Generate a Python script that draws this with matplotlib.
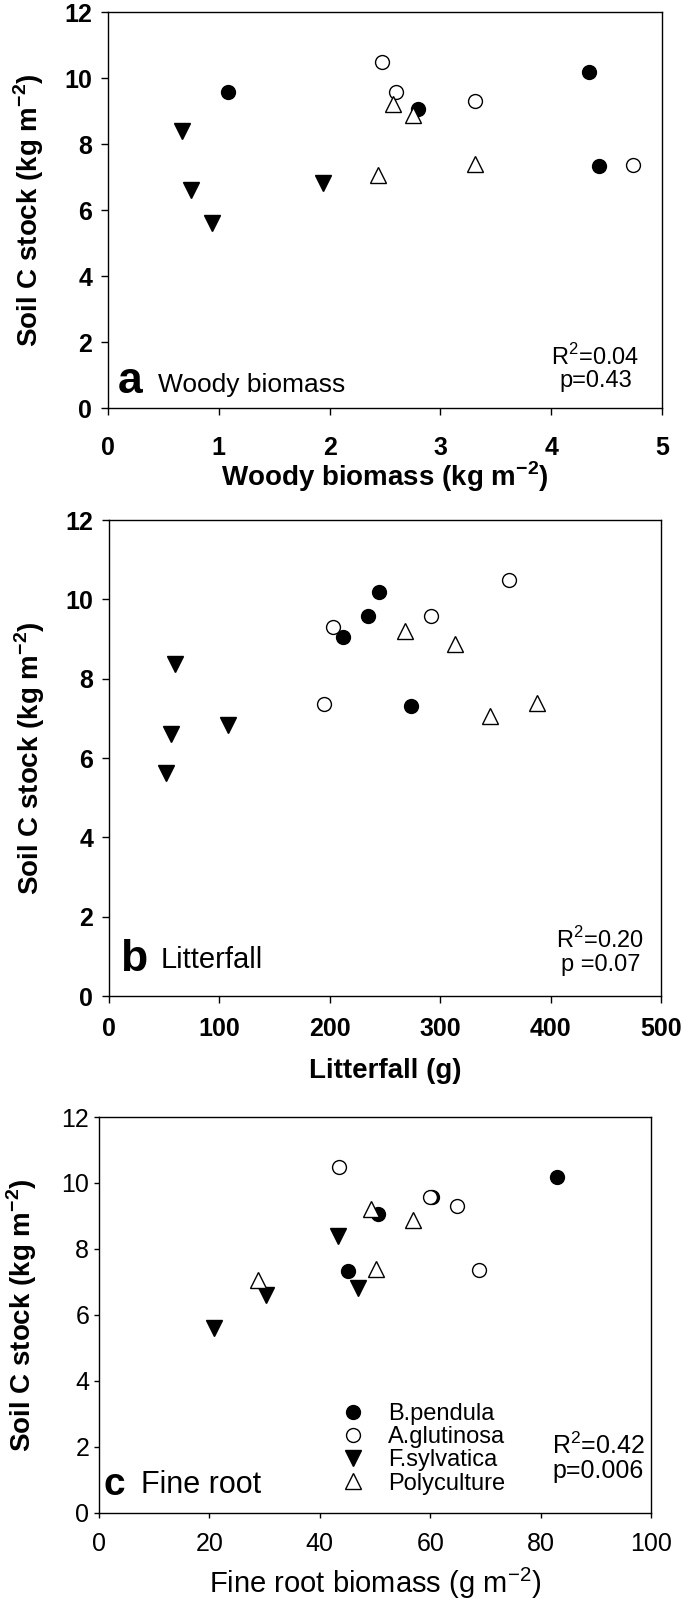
import matplotlib
matplotlib.use("Agg")
import matplotlib.pyplot as plt
from matplotlib import font_manager as fm
from matplotlib.lines import Line2D

names = {f.name for f in fm.fontManager.ttflist}
BASE = "Liberation Sans" if "Liberation Sans" in names else "DejaVu Sans"
plt.rcParams['font.family'] = [BASE, 'DejaVu Sans']
plt.rcParams['mathtext.fontset'] = 'custom'
plt.rcParams['mathtext.rm'] = BASE
plt.rcParams['mathtext.bf'] = BASE + ':bold'

species = ["B.pendula", "A.glutinosa", "F.sylvatica", "Polyculture"]

# Soil C stock (kg m-2) per plot, per species
soil_c = {
    "B.pendula":   [9.57, 9.05, 10.18, 7.32],
    "A.glutinosa": [10.50, 9.59, 9.31, 7.36],
    "F.sylvatica": [8.38, 6.60, 5.62, 6.83],
    "Polyculture": [9.20, 8.88, 7.07, 7.39],
}
# Woody biomass (kg m-2)
woody = {
    "B.pendula":   [1.085, 2.80, 4.34, 4.43],
    "A.glutinosa": [2.47, 2.60, 3.31, 4.74],
    "F.sylvatica": [0.67, 0.75, 0.94, 1.94],
    "Polyculture": [2.57, 2.75, 2.44, 3.31],
}
# Litterfall (g)
litter = {
    "B.pendula":   [235, 212, 245, 274],
    "A.glutinosa": [362, 292, 203, 195],
    "F.sylvatica": [60, 56, 52, 108],
    "Polyculture": [268, 313, 345, 388],
}
# Fine root biomass (g m-2)
fineroot = {
    "B.pendula":   [60.4, 50.6, 83.0, 45.1],
    "A.glutinosa": [43.5, 60.0, 64.9, 68.9],
    "F.sylvatica": [43.3, 30.3, 20.8, 46.9],
    "Polyculture": [49.3, 56.8, 28.8, 50.2],
}

styles = {
    "B.pendula":   dict(marker="o", mfc="black", mec="black", ms=10),
    "A.glutinosa": dict(marker="o", mfc="white", mec="black", ms=10),
    "F.sylvatica": dict(marker="v", mfc="black", mec="black", ms=11),
    "Polyculture": dict(marker="^", mfc="white", mec="black", ms=11),
}

fig = plt.figure(figsize=(6.85, 16.05), dpi=100)
W, H = 685.0, 1605.0

def add_axes(l, r, t, b):
    return fig.add_axes([l / W, 1 - b / H, (r - l) / W, (b - t) / H])

axa = add_axes(108, 662, 12, 408)
axb = add_axes(109, 661, 520, 996)
axc = add_axes(99, 651, 1117, 1513)

def draw(ax, xs):
    for sp in species:
        ax.plot(xs[sp], soil_c[sp], linestyle="none", mew=1.0, zorder=3, **styles[sp])

def style(ax, xlim, xticks, xpad, ypad, length, bold=True):
    ax.set_xlim(*xlim)
    ax.set_ylim(0, 12)
    ax.set_xticks(xticks)
    ax.set_yticks(range(0, 13, 2))
    for s in ax.spines.values():
        s.set_linewidth(1.0)
    ax.tick_params(direction="out", length=length, width=1, labelsize=18)
    ax.tick_params(axis="x", pad=xpad)
    ax.tick_params(axis="y", pad=ypad)
    for lab in ax.get_xticklabels() + ax.get_yticklabels():
        lab.set_fontweight("bold" if bold else "normal")

YLAB = "Soil C stock (kg m$^{\\mathbf{-2}}$)"

# Panel a
draw(axa, woody)
style(axa, (0, 5), range(0, 6), xpad=15, ypad=6.5, length=5)
axa.set_ylabel(YLAB, fontsize=20, fontweight="bold")
axa.yaxis.set_label_coords(-0.112, 0.5)
axa.text(0.5, -0.174, "Woody biomass (kg m$^{\\mathbf{-2}}$)", transform=axa.transAxes,
         ha="center", va="center", fontsize=20, fontweight="bold")
axa.text(0.09, 0.79, "a", fontsize=32, fontweight="bold", va="center", ha="left")
axa.text(0.45, 0.70, "Woody biomass", fontsize=19, va="center", ha="left")
axa.text(4.40, 1.21, "R$^2$=0.04\np=0.43", fontsize=17, ha="center", va="center",
         linespacing=1.05)

# Panel b
draw(axb, litter)
style(axb, (0, 500), range(0, 501, 100), xpad=10, ypad=6.5, length=5)
axb.set_ylabel(YLAB, fontsize=20, fontweight="bold")
axb.yaxis.set_label_coords(-0.112, 0.5)
axb.text(0.5, -0.158, "Litterfall (g)", transform=axb.transAxes,
         ha="center", va="center", fontsize=20, fontweight="bold")
axb.text(10, 0.91, "b", fontsize=32, fontweight="bold", va="center", ha="left")
axb.text(47, 0.91, "Litterfall", fontsize=21, va="center", ha="left")
axb.text(445, 1.13, "R$^2$=0.20\np =0.07", fontsize=17, ha="center", va="center",
         linespacing=1.05)

# Panel c
draw(axc, fineroot)
style(axc, (0, 100), range(0, 101, 20), xpad=10, ypad=3.5, length=3.5, bold=False)
axc.set_ylabel(YLAB, fontsize=20, fontweight="bold")
axc.yaxis.set_label_coords(-0.109, 0.5)
axc.text(0.5, -0.179, "Fine root biomass (g m$^{-2}$)", transform=axc.transAxes,
         ha="center", va="center", fontsize=21)
axc.text(0.9, 0.84, "c", fontsize=28, fontweight="bold", va="center", ha="left")
axc.text(7.6, 0.84, "Fine root", fontsize=22, va="center", ha="left")
axc.text(90.4, 1.66, "R$^2$=0.42\np=0.006", fontsize=18, ha="center", va="center",
         linespacing=1.0)

handles = [Line2D([], [], linestyle="none", mew=1.0, **styles[sp]) for sp in species]
axc.legend(handles, species, loc="center left", bbox_to_anchor=(0.438, 0.162),
           frameon=False, prop={"size": 17},
           handletextpad=1.0, labelspacing=0.05, handlelength=1.0,
           borderaxespad=0, borderpad=0)

fig.savefig("out.png", dpi=100)
